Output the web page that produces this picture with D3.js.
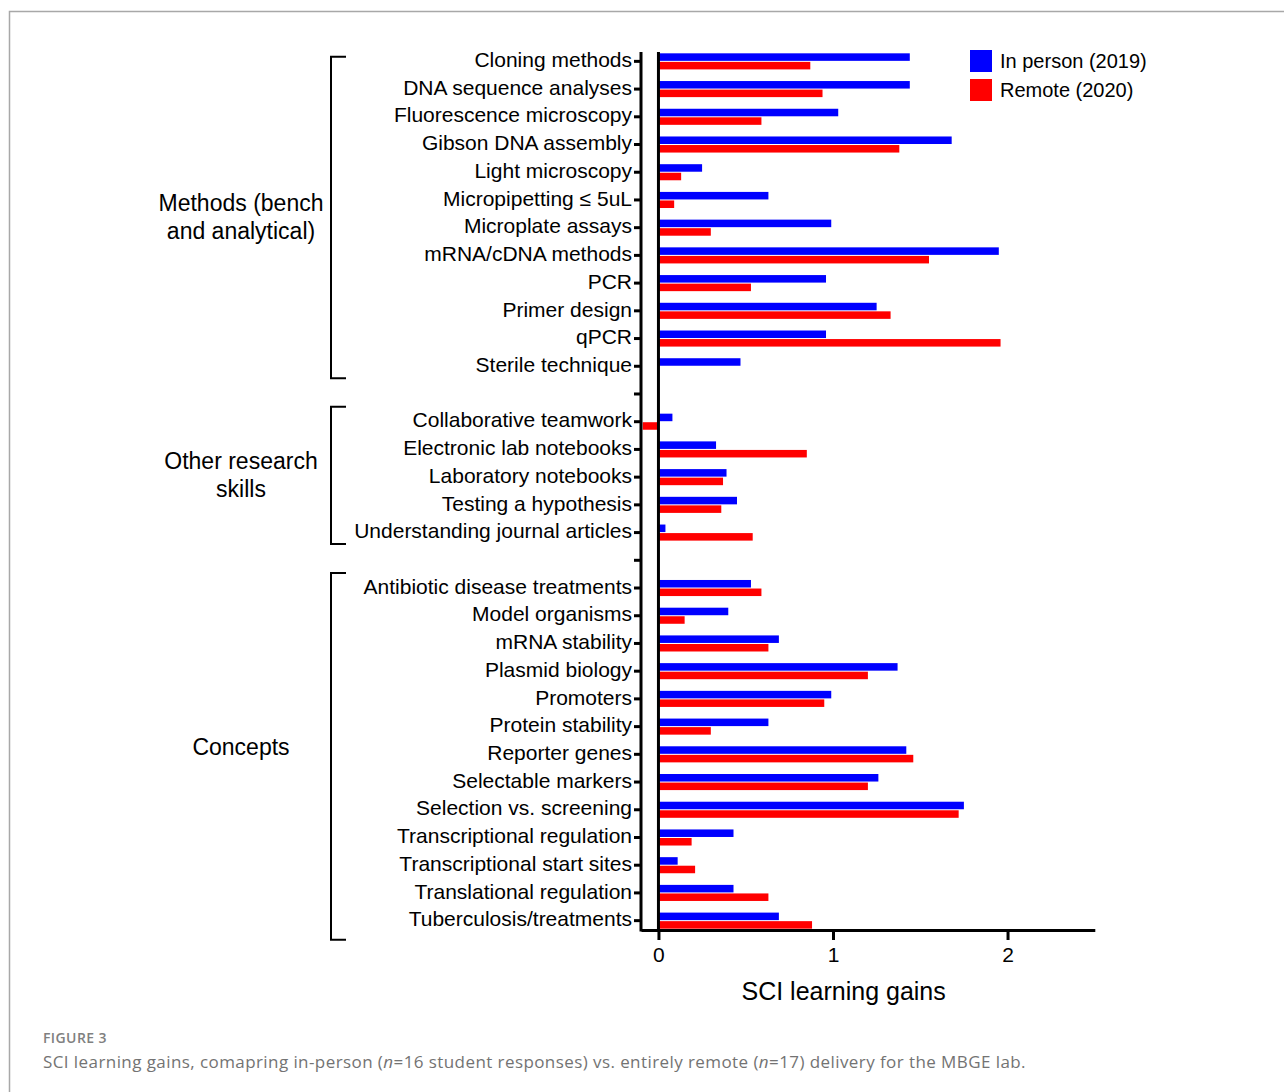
<!DOCTYPE html>
<html>
<head>
<meta charset="utf-8">
<script src="https://cdn.jsdelivr.net/npm/d3@7"></script>
<style>
  body { margin: 0; background: #fff; }
  svg { display: block; }
  .tick text { font-family: "Liberation Sans", Arial, sans-serif; fill: #000; }
</style>
</head>
<body>
<svg id="chart"></svg>
<script>
// Category groups (rows read top to bottom)
const methods = ["Cloning methods", "DNA sequence analyses", "Fluorescence microscopy", "Gibson DNA assembly",
    "Light microscopy", "Micropipetting \u2264 5uL", "Microplate assays", "mRNA/cDNA methods", "PCR",
    "Primer design", "qPCR", "Sterile technique"];
const otherSkills = ["Collaborative teamwork", "Electronic lab notebooks", "Laboratory notebooks",
    "Testing a hypothesis", "Understanding journal articles"];
const concepts = ["Antibiotic disease treatments", "Model organisms", "mRNA stability", "Plasmid biology",
    "Promoters", "Protein stability", "Reporter genes", "Selectable markers", "Selection vs. screening",
    "Transcriptional regulation", "Transcriptional start sites", "Translational regulation",
    "Tuberculosis/treatments"];

// SCI learning gains, same order as the labels above
const inPerson2019 = [1.44, 1.44, 1.03, 1.68, 0.25, 0.63, 0.99, 1.95, 0.96, 1.25, 0.96, 0.47,
    0.08, 0.33, 0.39, 0.45, 0.04,
    0.53, 0.40, 0.69, 1.37, 0.99, 0.63, 1.42, 1.26, 1.75, 0.43, 0.11, 0.43, 0.69];
const remote2020 = [0.87, 0.94, 0.59, 1.38, 0.13, 0.09, 0.30, 1.55, 0.53, 1.33, 1.96, 0,
    -0.09, 0.85, 0.37, 0.36, 0.54,
    0.59, 0.15, 0.63, 1.20, 0.95, 0.30, 1.46, 1.20, 1.72, 0.19, 0.21, 0.63, 0.88];

const groupNames = [["Methods (bench", "and analytical)"], ["Other research", "skills"], ["Concepts"]];
const seriesNames = ["In person (2019)", "Remote (2020)"];
const seriesColors = ["#0000ff", "#ff0000"];
const xTicks = [0, 1, 2];

const width = 1284;
const height = 1092;
const font = '"Liberation Sans", Arial, sans-serif';

const svg = d3.select('#chart')
    .attr('width', width)
    .attr('height', height);

// frame lines of the figure panel
svg.append('path')
    .attr('d', `M 9.5,${height} V 11.5 H ${width}`)
    .attr('fill', 'none')
    .attr('stroke', '#a8a8a8')
    .attr('stroke-width', 1.5);

// build rows with an empty spacer row between groups
const groups = [methods, otherSkills, concepts];
const rows = [];
let vi = 0;
groups.forEach((labels, gi) => {
    labels.forEach(label => {
        rows.push({ key: label, label: label, group: gi, values: [inPerson2019[vi], remote2020[vi]] });
        vi++;
    });
    if (gi < groups.length - 1) rows.push({ key: 'gap' + gi, label: '', group: -1, values: null });
});

// scales
const x = d3.scaleLinear()
    .domain([-0.1, 2.5])
    .range([641, 1094.8]);

const y = d3.scaleBand()
    .domain(rows.map(r => r.key))
    .range([47.5, 934.5])
    .paddingInner(0.42)
    .paddingOuter(0.21);

const ySub = d3.scaleBand()
    .domain([0, 1])
    .range([0, y.bandwidth()])
    .paddingInner(0.12);

const axisTop = 52;
const axisBottom = 930;

// bars
const barRows = svg.append('g')
    .selectAll('g')
    .data(rows.filter(r => r.values))
    .join('g')
    .attr('transform', d => `translate(0,${y(d.key)})`);

barRows.selectAll('rect')
    .data(d => d.values.map((v, i) => ({ v, i })))
    .join('rect')
    .attr('x', d => x(Math.min(0, d.v)))
    .attr('y', d => ySub(d.i))
    .attr('width', d => Math.abs(x(d.v) - x(0)))
    .attr('height', ySub.bandwidth())
    .attr('fill', d => seriesColors[d.i]);

// zero line
svg.append('line')
    .attr('x1', x(0)).attr('x2', x(0))
    .attr('y1', axisTop).attr('y2', axisBottom)
    .attr('stroke', '#000')
    .attr('stroke-width', 3);

// y axis
const yAxis = svg.append('g')
    .attr('transform', `translate(${x.range()[0]},0)`)
    .call(d3.axisLeft(y)
        .tickSize(7)
        .tickSizeOuter(0)
        .tickPadding(2)
        .tickFormat(k => rows.find(r => r.key === k).label));
yAxis.select('.domain').remove();
yAxis.selectAll('.tick line').attr('stroke', '#000').attr('stroke-width', 3);
yAxis.selectAll('.tick text').attr('font-size', 21).attr('dy', '0.27em');

svg.append('line')
    .attr('x1', x.range()[0]).attr('x2', x.range()[0])
    .attr('y1', axisTop).attr('y2', axisBottom + 1.5)
    .attr('stroke', '#000')
    .attr('stroke-width', 3);

// x axis
const xAxis = svg.append('g')
    .attr('transform', `translate(0,${axisBottom})`)
    .call(d3.axisBottom(x)
        .tickValues(xTicks)
        .tickFormat(d3.format('d'))
        .tickSize(10)
        .tickSizeOuter(0)
        .tickPadding(7));
xAxis.select('.domain').attr('stroke', '#000').attr('stroke-width', 3);
xAxis.selectAll('.tick line').attr('stroke', '#000').attr('stroke-width', 3);
xAxis.selectAll('.tick text').attr('font-size', 21);

svg.append('text')
    .attr('x', (x(0) + x(2.5)) / 2 - 33)
    .attr('y', 1000)
    .attr('text-anchor', 'middle')
    .attr('font-family', font)
    .attr('font-size', 25)
    .attr('fill', '#000')
    .text('SCI learning gains');

// group brackets and labels
const bracketPad = [[4.5, 12], [15, 11.5], [15, 19]];
const labelShift = [0, 0, -9];
const bracketX = 331;
groups.forEach((labels, gi) => {
    const top = y(labels[0]) + y.bandwidth() / 2 - bracketPad[gi][0];
    const bottom = y(labels[labels.length - 1]) + y.bandwidth() / 2 + bracketPad[gi][1];
    svg.append('path')
        .attr('d', `M ${bracketX + 15},${top} H ${bracketX} V ${bottom} H ${bracketX + 15}`)
        .attr('fill', 'none')
        .attr('stroke', '#000')
        .attr('stroke-width', 2);

    const mid = (top + bottom) / 2 + labelShift[gi];
    const lines = groupNames[gi];
    const lineH = 28;
    const t = svg.append('text')
        .attr('text-anchor', 'middle')
        .attr('font-family', font)
        .attr('font-size', 23)
        .attr('fill', '#000');
    lines.forEach((ln, li) => {
        t.append('tspan')
            .attr('x', 241)
            .attr('y', mid + (li - (lines.length - 1) / 2) * lineH)
            .attr('dy', '0.33em')
            .text(ln);
    });
});

// legend
const legend = svg.append('g')
    .attr('transform', 'translate(970,50)');
seriesNames.forEach((name, i) => {
    legend.append('rect')
        .attr('x', 0)
        .attr('y', i * 29)
        .attr('width', 22)
        .attr('height', 22)
        .attr('fill', seriesColors[i]);
    legend.append('text')
        .attr('x', 30)
        .attr('y', i * 29 + 11)
        .attr('dy', '0.35em')
        .attr('font-family', font)
        .attr('font-size', 20)
        .attr('fill', '#000')
        .text(name);
});

// caption
svg.append('text')
    .attr('x', 43)
    .attr('y', 1043)
    .attr('font-family', '"Open Sans", sans-serif')
    .attr('font-size', 14)
    .attr('font-weight', 600)
    .attr('letter-spacing', 0.4)
    .attr('fill', '#808080')
    .text('FIGURE 3');

const cap = svg.append('text')
    .attr('x', 43)
    .attr('y', 1068)
    .attr('font-family', '"Open Sans", sans-serif')
    .attr('font-size', 17)
    .attr('letter-spacing', 0.42)
    .attr('fill', '#737373');
cap.append('tspan').text('SCI learning gains, comapring in-person (');
cap.append('tspan').attr('font-style', 'italic').text('n');
cap.append('tspan').text('=16 student responses) vs. entirely remote (');
cap.append('tspan').attr('font-style', 'italic').text('n');
cap.append('tspan').text('=17) delivery for the MBGE lab.');
</script>
</body>
</html>
